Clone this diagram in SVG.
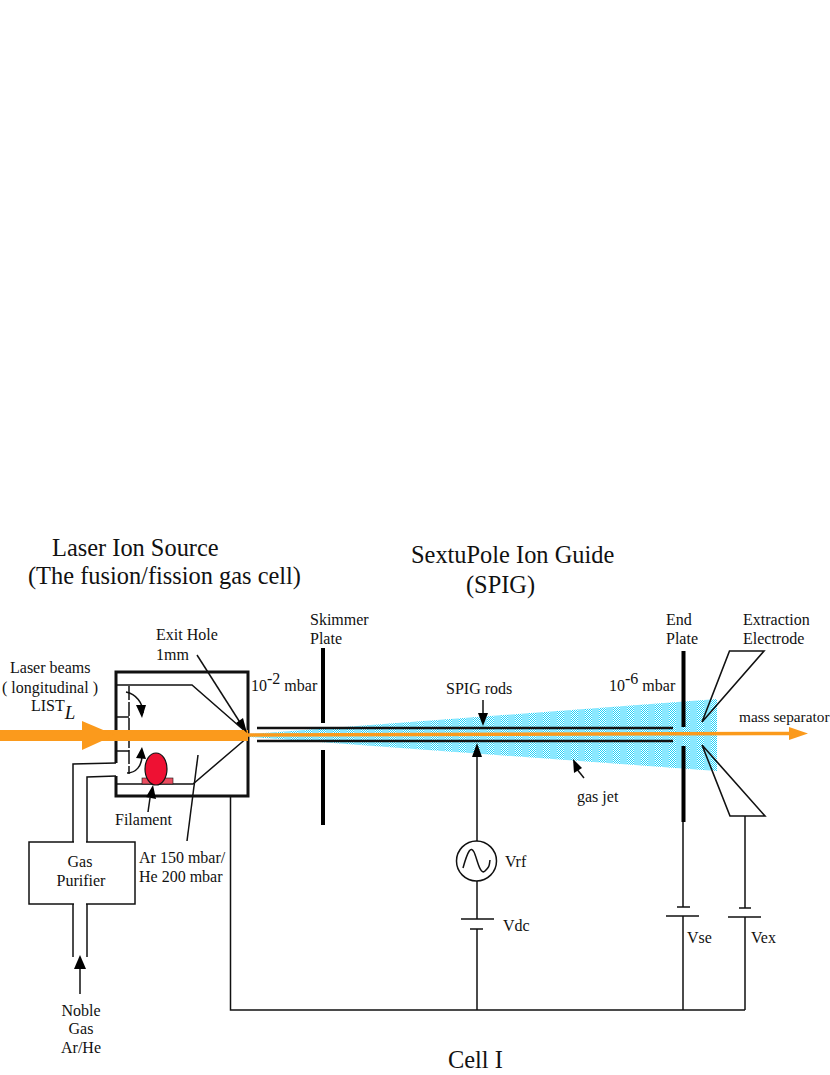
<svg xmlns="http://www.w3.org/2000/svg" width="830" height="1075" viewBox="0 0 830 1075">
<style>
text{font-family:"Liberation Serif","Times New Roman",serif;fill:#111}
.s{font-size:16px}.b{font-size:24.400px}
.w{fill:none;stroke:#111;stroke-width:1.500}
.t{fill:none;stroke:#111;stroke-width:1.600}
.p{fill:none;stroke:#000;stroke-width:4}
.r{fill:none;stroke:#111;stroke-width:2.500}
.h{fill:#000;stroke:none}
.d{fill:#fff}
</style>
<defs>
<pattern id="jet" width="14" height="2" patternUnits="userSpaceOnUse" x="11" y="0"><rect width="14" height="2" fill="#8ae8ff"/><rect width="7" height="2" fill="#22d2fa"/>
<rect class="d" x="0" y="0" width="1" height="1"/><rect class="d" x="2" y="0" width="1" height="1"/><rect class="d" x="4" y="0" width="1" height="1"/><rect class="d" x="6" y="0" width="1" height="1"/>
<rect class="d" x="1" y="1" width="1" height="1"/><rect class="d" x="3" y="1" width="1" height="1"/><rect class="d" x="5" y="1" width="1" height="1"/></pattern>
</defs>
<g id="jet-cone"><path d="M250 734L717 699V771L250 737Z" fill="url(#jet)"/></g>
<g id="titles">
<text class="b" x="52" y="556">Laser Ion Source</text>
<text class="b" x="28" y="584">(The fusion/fission gas cell)</text>
<text class="b" x="411" y="563">SextuPole Ion Guide</text>
<text class="b" x="466" y="593">(SPIG)</text>
<text class="b" x="448" y="1068">Cell I</text>
</g>
<g id="gas-cell">
<path d="M116 763V672H248V796H116V776" fill="none" stroke="#111" stroke-width="3"/>
<path class="w" d="M116 685H192L247 733M116 784H193L248 737"/>
<path class="w" d="M129 686V774" stroke-dasharray="14 2"/>
<path class="w" d="M116 717H129M116 751H129"/>
<rect x="142" y="778" width="31" height="6" fill="#ea4d60" stroke="#111" stroke-width=".6"/>
<ellipse cx="156" cy="769" rx="11" ry="16" fill="#ee1133" stroke="#111" stroke-width="1.200"/>
</g>
<g id="gas-purifier">
<rect x="29" y="842" width="106" height="62" fill="#fff" stroke="#111" stroke-width="1.500"/>
<rect x="74" y="903" width="12" height="3" fill="#fff"/>
<rect x="74" y="841" width="12" height="3" fill="#fff"/>
<text class="s" x="80" y="867" text-anchor="middle">Gas</text>
<text class="s" x="81" y="886" text-anchor="middle">Purifier</text>
</g>
<g id="laser-beam">
<rect x="0" y="730" width="248" height="11" fill="#fb9a1c"/>
<path d="M82 721L115 735L82 750Z" fill="#fb9a1c"/>
<path d="M248 735L790 733.500" stroke="#fb9a1c" stroke-width="3.500"/>
<path d="M789 727L808 733.500L789 740Z" fill="#fb9a1c"/>
</g>
<g id="spig-rods"><path class="r" d="M257 728H673M257 741H673"/></g>
<g id="skimmer-plate"><path class="p" d="M323 648V723M323 750V825"/></g>
<g id="end-plate"><path class="p" d="M683.500 651V727M683.500 746V822"/></g>
<g id="extraction-electrode"><path class="t" d="M702 722L729.500 651H764ZM702 745L730 816H765Z"/></g>
<g id="vrf-source">
<circle cx="476.500" cy="861" r="20" fill="#fff" stroke="#111" stroke-width="1.500"/>
<path class="w" d="M463 868C468 850 471 846 474 852S480 876 485 871S489 866 490 860"/>
</g>
<g id="connectors">
<path class="w" d="M116 763L73 764V842M116 776L87 777V842M73 904V957M87 904V957"/>
<path class="w" d="M230.500 796V1010H745M477 757V841M477 881V919M461 919H494M470 929H483M477 929V1010M683 822V907M677 907H690M666 916H699M683 916V1010M745 816V908M739 908H751M728 917H761M745 917V1010"/>
<path class="w" d="M80 994V968"/><path class="h" d="M80 955L86 969H74Z"/>
<path class="h" d="M477 743L482 757H472Z"/>
<path class="w" d="M197 655L241 724"/><path class="h" d="M247 733L236 723L243 718Z"/>
<path class="w" d="M148 812L150 798"/><path class="h" d="M153 785L156 799L146 797Z"/>
<path class="w" d="M198 755L187 841"/>
<path class="w" d="M483 700V715"/><path class="h" d="M483 726L478 713H488Z"/>
<path class="w" d="M584 778L576 768"/><path class="h" d="M573 759L582 768L574 773Z"/>
<path class="w" d="M126 692C136 694 143 703 143 713"/><path class="h" d="M142 718L136 705L146 705Z"/>
<path class="w" d="M127 773C136 773 142 766 142 755"/><path class="h" d="M142 747L146 759L136 758Z"/>
</g>
<g id="labels">
<text class="s" x="156" y="640">Exit Hole</text>
<text class="s" x="156" y="660">1mm</text>
<text class="s" x="10" y="673">Laser beams</text>
<text class="s" x="2" y="693">( longitudinal )</text>
<text class="s" x="31" y="711">LIST<tspan font-style="italic" font-size="19" dy="8">L</tspan></text>
<text class="s" x="115" y="825">Filament</text>
<text class="s" x="139" y="863">Ar 150 mbar/</text>
<text class="s" x="139" y="882">He 200 mbar</text>
<text class="s" x="251" y="691">10<tspan dy="-7">-2</tspan><tspan dy="7"> mbar</tspan></text>
<text class="s" x="310" y="625">Skimmer</text>
<text class="s" x="310" y="644">Plate</text>
<text class="s" x="446" y="694">SPIG rods</text>
<text class="s" x="577" y="802">gas jet</text>
<text class="s" x="609" y="691">10<tspan dy="-7">-6</tspan><tspan dy="7"> mbar</tspan></text>
<text class="s" x="666" y="625">End</text>
<text class="s" x="666" y="644">Plate</text>
<text class="s" x="743" y="625">Extraction</text>
<text class="s" x="743" y="644">Electrode</text>
<text x="739" y="722" font-size="15.300">mass separator</text>
<text class="s" x="505" y="867">Vrf</text>
<text class="s" x="503" y="931">Vdc</text>
<text class="s" x="687" y="943">Vse</text>
<text class="s" x="751" y="943">Vex</text>
<text class="s" x="81" y="1016" text-anchor="middle">Noble</text>
<text class="s" x="81" y="1034" text-anchor="middle">Gas</text>
<text class="s" x="81" y="1053" text-anchor="middle">Ar/He</text>
</g>
</svg>
